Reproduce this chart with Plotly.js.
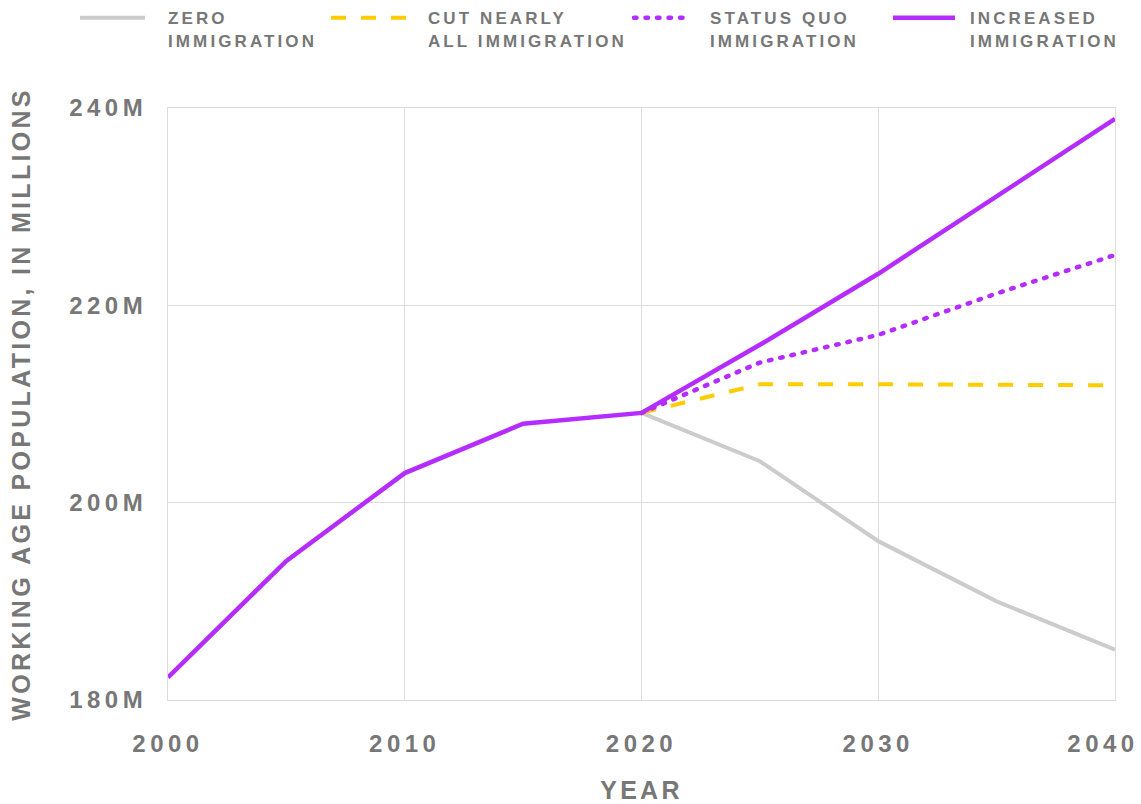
<!DOCTYPE html>
<html>
<head>
<meta charset="utf-8">
<script src="https://cdn.plot.ly/plotly-3.0.1.min.js"></script>
<style>
html,body{margin:0;padding:0;background:#fff;}
#chart{width:1141px;height:804px;}
.infolayer text{letter-spacing:3.1px !important;}
.infolayer g.scrollbox{clip-path:none !important;}
.xtick text,.x2tick text,.ytick text{letter-spacing:4.5px !important;}
.infolayer .g-xtitle text,.infolayer .g-ytitle text{letter-spacing:3.3px !important;}
.scatterlayer .trace:nth-child(3) path.js-line{stroke-linecap:round;}
.infolayer g.legend3 path.js-line{stroke-linecap:round;}
.infolayer g.legend .legendlines path.js-line{d:path("M-48,0h65");}
.infolayer g.legend2 .legendlines path.js-line{d:path("M-57,0h76");}
.infolayer g.legend3 .legendlines path.js-line{d:path("M-36,0h55");}
.infolayer g.legend4 .legendlines path.js-line{d:path("M-37,0h62");}
</style>
</head>
<body>
<div id="chart"></div>
<script>
const seriesNames = ["ZERO<br>IMMIGRATION", "CUT NEARLY<br>ALL IMMIGRATION", "STATUS QUO<br>IMMIGRATION", "INCREASED<br>IMMIGRATION"];
const historicYears = [2000, 2005, 2010, 2015, 2020];
const historicValues = [182.3, 194.1, 203.0, 208.0, 209.1];
const projYears = [2020, 2025, 2030, 2035, 2040];
const zeroValues = [209.1, 204.2, 196.1, 190.0, 185.1];
const cutValues = [209.1, 212.0, 212.0, 212.0, 211.9];
const statusQuoValues = [209.1, 214.2, 217.0, 221.2, 225.1];
const increasedValues = [209.1, 216.0, 223.2, 231.0, 238.9];
const yTickVals = [180, 200, 220, 240];
const yTickText = ["180M", "200M", "220M", "240M"];
const xTickVals = [2000, 2010, 2020, 2030];
const xTickText = ["2000", "2010", "2020", "2030"];
const xEndTickVals = [2040];
const xEndTickText = ["2040"];

const incYears = historicYears.concat(projYears.slice(1));
const incValues = historicValues.concat(increasedValues.slice(1));

const traces = [
  {x: projYears, y: zeroValues, name: seriesNames[0], mode: 'lines', legend: 'legend',
   line: {color: '#cccccc', width: 4}},
  {x: projYears, y: cutValues, name: seriesNames[1], mode: 'lines', legend: 'legend2',
   line: {color: '#ffcc00', width: 4, dash: '15px,15px'}},
  {x: projYears, y: statusQuoValues, name: seriesNames[2], mode: 'lines', legend: 'legend3',
   line: {color: '#b52cff', width: 4.5, dash: '2.5px,9px'}},
  {x: incYears, y: incValues, name: seriesNames[3], mode: 'lines', legend: 'legend4',
   line: {color: '#b52cff', width: 4.5}},
  {x: xEndTickVals, y: [null], xaxis: 'x2', mode: 'lines', showlegend: false, hoverinfo: 'skip'}
];

const tickFont = {family: 'Liberation Sans, Arial, sans-serif', size: 24, color: '#777777', weight: 700};
const titleFont = {family: 'Liberation Sans, Arial, sans-serif', size: 25, color: '#777777', weight: 700};
const legendFont = {family: 'Liberation Sans, Arial, sans-serif', size: 17, color: '#777777', weight: 700};

function legendAt(xPaper) {
  return {orientation: 'h', x: xPaper, xanchor: 'left', y: 1.182, yanchor: 'top',
          font: legendFont, valign: 'top', bgcolor: 'rgba(0,0,0,0)'};
}

const layout = {
  width: 1141, height: 804,
  margin: {l: 168, r: 26, t: 108, b: 104, autoexpand: false},
  paper_bgcolor: '#ffffff', plot_bgcolor: '#ffffff',
  showlegend: true,
  legend: legendAt(-0.0422),
  legend2: legendAt(0.2323),
  legend3: legendAt(0.5301),
  legend4: legendAt(0.8046),
  xaxis: {
    range: [2000, 2040], tickvals: xTickVals, ticktext: xTickText,
    showgrid: true, gridcolor: '#dddddd', gridwidth: 1,
    showline: true, linecolor: '#dddddd', linewidth: 1, mirror: true,
    zeroline: false, ticks: '', ticklabelstandoff: 22, ticklabeloverflow: 'allow',
    tickfont: tickFont,
    title: {text: 'YEAR', font: titleFont, standoff: 25}
  },
  xaxis2: {
    overlaying: 'x', matches: 'x', side: 'bottom', anchor: 'y',
    range: [2000, 2040], tickvals: xEndTickVals, ticktext: xEndTickText,
    showgrid: false, showline: false, zeroline: false, ticks: '',
    ticklabelstandoff: 27, ticklabelshift: -12, ticklabeloverflow: 'allow',
    tickfont: tickFont
  },
  yaxis: {
    range: [180, 240], tickvals: yTickVals, ticktext: yTickText,
    showgrid: true, gridcolor: '#dddddd', gridwidth: 1,
    showline: true, linecolor: '#dddddd', linewidth: 1, mirror: true,
    zeroline: false, ticks: '', ticklabelstandoff: 15, ticklabeloverflow: 'allow',
    tickfont: tickFont,
    title: {text: 'WORKING AGE POPULATION, IN MILLIONS', font: titleFont, standoff: 31}
  }
};

Plotly.newPlot('chart', traces, layout, {displayModeBar: false, staticPlot: true});
</script>
</body>
</html>
